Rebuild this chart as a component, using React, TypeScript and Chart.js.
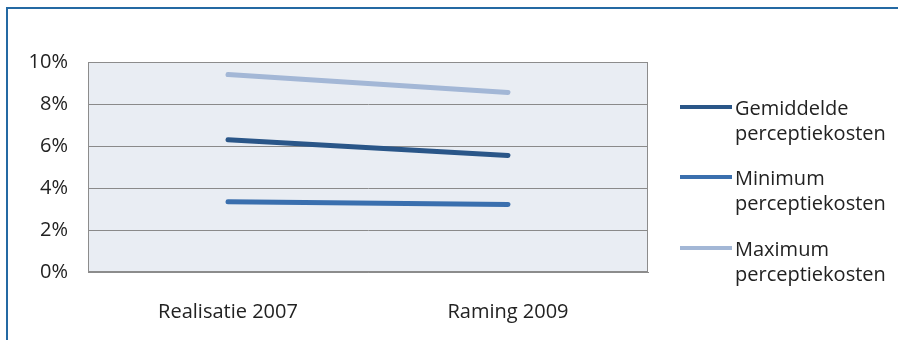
import React, { useEffect, useRef } from "react";
import { Chart, registerables } from "chart.js";

Chart.register(...registerables);

const categories = ["Realisatie 2007", "Raming 2009"];
const gemiddelde = [6.3, 5.55];
const minimum = [3.35, 3.22];
const maximum = [9.4, 8.55];
const yTicks = [0, 2, 4, 6, 8, 10];

const seriesNames = [
  ["Gemiddelde", "perceptiekosten"],
  ["Minimum", "perceptiekosten"],
  ["Maximum", "perceptiekosten"],
];
const seriesColors = ["#2a5688", "#3a6fae", "#a3b7d6"];

const FONT = "'Open Sans', Lato, sans-serif";
const FONT_SIZE = 20;

const plotFrame = {
  id: "plotFrame",
  beforeDraw(chart: any) {
    const { ctx, chartArea: a } = chart;
    ctx.save();
    ctx.fillStyle = "#e9edf3";
    ctx.fillRect(a.left, a.top, a.right - a.left, a.bottom - a.top);
    ctx.restore();
  },
  afterDraw(chart: any) {
    const { ctx, chartArea: a } = chart;
    ctx.save();
    ctx.strokeStyle = "#8c8c8c";
    ctx.lineWidth = 1;
    ctx.strokeRect(a.left + 0.5, a.top + 0.5, a.right - a.left - 1, a.bottom - a.top - 1);
    ctx.restore();
  },
};

export default function App() {
  const canvasRef = useRef<HTMLCanvasElement | null>(null);

  useEffect(() => {
    document.body.style.margin = "0";
    const canvas = canvasRef.current;
    if (!canvas) return;
    const chart = new Chart(canvas, {
      type: "line",
      data: {
        labels: categories,
        datasets: [
          { label: seriesNames[0].join(" "), data: gemiddelde, borderColor: seriesColors[0] },
          { label: seriesNames[1].join(" "), data: minimum, borderColor: seriesColors[1] },
          { label: seriesNames[2].join(" "), data: maximum, borderColor: seriesColors[2] },
        ].map((d) => ({
          ...d,
          borderWidth: 5,
          pointRadius: 0,
          borderCapStyle: "round" as const,
          tension: 0,
          fill: false,
        })),
      },
      options: {
        animation: false,
        responsive: false,
        layout: { padding: { left: 0, top: 62, right: 250, bottom: 0 } },
        plugins: { legend: { display: false }, tooltip: { enabled: false } },
        scales: {
          x: {
            offset: true,
            grid: { display: false, drawTicks: false },
            border: { display: true, color: "#8c8c8c" },
            ticks: { padding: 28, color: "#222222", font: { family: FONT, size: FONT_SIZE } },
            afterFit(scale: any) {
              scale.height = 68;
            },
          },
          y: {
            min: 0,
            max: 10,
            afterBuildTicks(scale: any) {
              scale.ticks = yTicks.map((v) => ({ value: v }));
            },
            grid: { color: "#8a8a8a", drawTicks: false, lineWidth: 1 },
            border: { display: true, color: "#8c8c8c" },
            ticks: {
              padding: 20,
              color: "#222222",
              font: { family: FONT, size: FONT_SIZE },
              callback: (v: any) => `${v}%`,
            },
            afterFit(scale: any) {
              scale.width = 88;
            },
          },
        },
      },
      plugins: [plotFrame],
    });
    return () => chart.destroy();
  }, []);

  // vertical position of each legend swatch
  const legendRows = [107, 177, 248];

  return (
    <div style={{ position: "relative", width: 898, height: 340, background: "#ffffff", overflow: "hidden" }}>
      <div
        style={{
          position: "absolute",
          left: 6,
          top: 7,
          width: 900,
          height: 340,
          borderTop: "2px solid #2469a3",
          borderLeft: "2px solid #2469a3",
        }}
      />
      <canvas ref={canvasRef} width={898} height={340} style={{ position: "absolute", left: 0, top: 0 }} />
      {seriesNames.map((lines, i) => (
        <div key={i}>
          <div
            style={{
              position: "absolute",
              left: 680,
              top: legendRows[i] - 2,
              width: 52,
              height: 4,
              background: seriesColors[i],
            }}
          />
          <div
            style={{
              position: "absolute",
              left: 735,
              top: legendRows[i] - 12,
              fontFamily: FONT,
              fontSize: FONT_SIZE,
              lineHeight: "25px",
              color: "#222222",
              whiteSpace: "nowrap",
            }}
          >
            {lines.map((t, j) => (
              <div key={j}>{t}</div>
            ))}
          </div>
        </div>
      ))}
    </div>
  );
}
